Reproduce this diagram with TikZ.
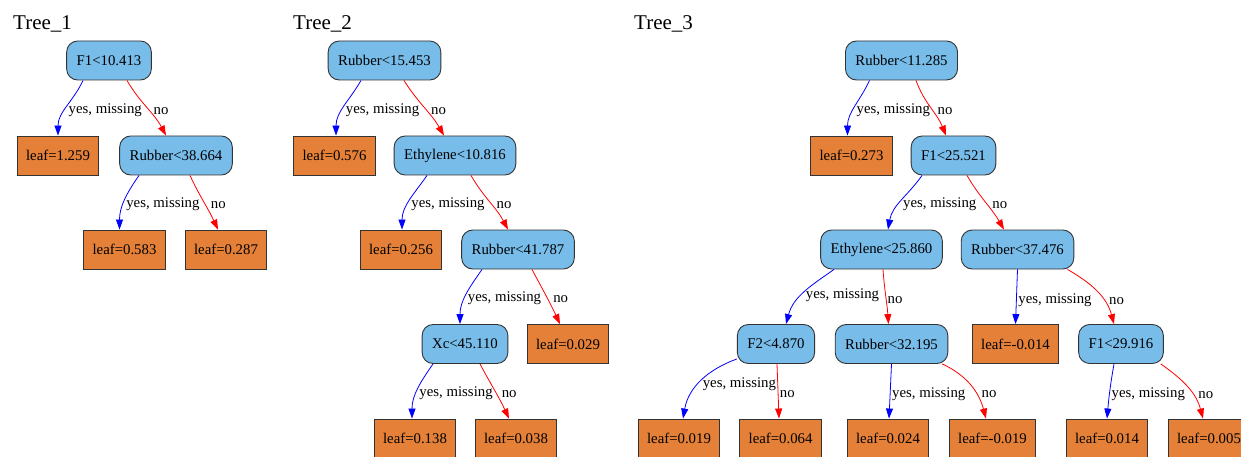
\documentclass[tikz,border=0pt]{standalone}
\usepackage{fontspec}
\setmainfont{Liberation Serif}
\usepackage{tikz}
\usetikzlibrary{arrows.meta,positioning}
\definecolor{condblue}{HTML}{78BCEA}
\definecolor{leaforange}{HTML}{E48038}

\begin{document}
\begin{tikzpicture}[
    x=1pt, y=1pt,
    font=\fontsize{14.8}{17}\selectfont,
    cond/.style={rectangle, draw=black!80, line width=0.9pt, rounded corners=11pt, fill=condblue, minimum height=39pt, inner xsep=10pt},
    leaf/.style={rectangle, draw=black!80, line width=0.9pt, fill=leaforange, minimum height=39pt, inner xsep=9pt},
    treetitle/.style={anchor=base west, inner sep=0pt, font=\fontsize{21}{24}\selectfont},
    yesedge/.style={-{Triangle[length=10pt, width=7pt]}, blue, line width=0.8pt},
    noedge/.style={-{Triangle[length=10pt, width=7pt]}, red, line width=0.8pt},
    lbl/.style={pos=0.5, anchor=west, inner sep=1.5pt, yshift=-3pt, text=black},
    nolbl/.style={lbl, xshift=5pt}
]
    \useasboundingbox (0,0) rectangle (1241,-457);

    % --- Tree 1 ---
    \node[treetitle] (ttl1) at (13,-30) {Tree\_1};

    \node[cond] (t1n0) at (109,-60.5) {F1<10.413};
    \node[leaf] (t1n1) at (58,-155.5) {leaf=1.259};
    \node[cond] (t1n2) at (176,-155.5) {Rubber<38.664};
    \node[leaf] (t1n3) at (124.5,-249.5) {leaf=0.583};
    \node[leaf] (t1n4) at (226,-249.5) {leaf=0.287};

    \draw[yesedge] ([xshift=-26pt]t1n0.south) to[out=-115, in=90] node[lbl] {yes, missing} (t1n1.north);
    \draw[noedge] ([xshift=18pt]t1n0.south) to[out=-60, in=118] node[nolbl] {no} ([xshift=-10pt]t1n2.north);
    \draw[yesedge] ([xshift=-37pt]t1n2.south) to[out=-125, in=90] node[lbl] {yes, missing} ([xshift=-5pt]t1n3.north);
    \draw[noedge] ([xshift=14pt]t1n2.south) to[out=-65, in=115] node[nolbl] {no} ([xshift=-8pt]t1n4.north);

    % --- Tree 2 ---
    \node[treetitle] (ttl2) at (293,-30) {Tree\_2};

    \node[cond] (t2n0) at (384.5,-60.5) {Rubber<15.453};
    \node[leaf] (t2n1) at (334.5,-155.5) {leaf=0.576};
    \node[cond] (t2n2) at (455,-155.5) {Ethylene<10.816};
    \node[leaf] (t2n3) at (401,-249.5) {leaf=0.256};
    \node[cond] (t2n4) at (518,-249.5) {Rubber<41.787};
    \node[cond] (t2n5) at (465,-344) {Xc<45.110};
    \node[leaf] (t2n6) at (568,-344) {leaf=0.029};
    \node[leaf] (t2n7) at (415,-438.5) {leaf=0.138};
    \node[leaf] (t2n8) at (516,-438.5) {leaf=0.038};

    \draw[yesedge] ([xshift=-23.5pt]t2n0.south) to[out=-120, in=90] node[lbl] {yes, missing} ([xshift=1.5pt]t2n1.north);
    \draw[noedge] ([xshift=19.5pt]t2n0.south) to[out=-58, in=120] node[nolbl] {no} ([xshift=-11pt]t2n2.north);
    \draw[yesedge] ([xshift=-28pt]t2n2.south) to[out=-125, in=90] node[lbl] {yes, missing} ([xshift=1pt]t2n3.north);
    \draw[noedge] ([xshift=16pt]t2n2.south) to[out=-60, in=118] node[nolbl] {no} ([xshift=-10pt]t2n4.north);
    \draw[yesedge] ([xshift=-36pt]t2n4.south) to[out=-125, in=90] node[lbl] {yes, missing} ([xshift=-5pt]t2n5.north);
    \draw[noedge] ([xshift=14pt]t2n4.south) to[out=-62, in=115] node[nolbl] {no} ([xshift=-8pt]t2n6.north);
    \draw[yesedge] ([xshift=-32pt]t2n5.south) to[out=-125, in=90] node[lbl] {yes, missing} ([xshift=-3pt]t2n7.north);
    \draw[noedge] ([xshift=15pt]t2n5.south) to[out=-62, in=115] node[nolbl] {no} ([xshift=-7pt]t2n8.north);

    % --- Tree 3 ---
    \node[treetitle] (ttl3) at (634,-30) {Tree\_3};

    \node[cond] (t3n0) at (901.5,-60.5) {Rubber<11.285};
    \node[leaf] (t3n1) at (851.5,-155.5) {leaf=0.273};
    \node[cond] (t3n2) at (953.5,-155.5) {F1<25.521};
    \node[cond] (t3n3) at (881.5,-249.5) {Ethylene<25.860};
    \node[cond] (t3n4) at (1017.5,-249.5) {Rubber<37.476};
    \node[cond] (t3n5) at (776,-344) {F2<4.870};
    \node[cond] (t3n6) at (891.5,-344) {Rubber<32.195};
    \node[leaf] (t3n7) at (1015.5,-344) {leaf=-0.014};
    \node[cond] (t3n8) at (1121,-344) {F1<29.916};
    \node[leaf] (t3n9) at (679,-438.5) {leaf=0.019};
    \node[leaf] (t3n10) at (780.6,-438.5) {leaf=0.064};
    \node[leaf] (t3n11) at (888,-438.5) {leaf=0.024};
    \node[leaf] (t3n12) at (992.5,-438.5) {leaf=-0.019};
    \node[leaf] (t3n13) at (1107,-438.5) {leaf=0.014};
    \node[leaf] (t3n14) at (1209,-438.5) {leaf=0.005};

    \draw[yesedge] ([xshift=-32pt]t3n0.south) to[out=-115, in=90] node[lbl] {yes, missing} ([xshift=-4pt]t3n1.north);
    \draw[noedge] ([xshift=14.5pt]t3n0.south) to[out=-70, in=112] node[nolbl] {no} ([xshift=-7.5pt]t3n2.north);
    \draw[yesedge] ([xshift=-31.5pt]t3n2.south) to[out=-125, in=80] node[lbl] {yes, missing} ([xshift=6.5pt]t3n3.north);
    \draw[noedge] ([xshift=13.5pt]t3n2.south) to[out=-60, in=120] node[nolbl] {no} ([xshift=-13.5pt]t3n4.north);
    \draw[yesedge] ([xshift=-47.5pt]t3n3.south) to[out=-145, in=75] node[lbl] {yes, missing} ([xshift=10pt]t3n5.north);
    \draw[noedge] ([xshift=1.5pt]t3n3.south) to[out=-86, in=94] node[lbl] {no} ([xshift=-3pt]t3n6.north);
    \draw[yesedge] (t3n4.south) -- node[lbl] {yes, missing} (t3n7.north);
    \draw[noedge] ([xshift=50pt]t3n4.south) to[out=-30, in=105] node[nolbl, pos=0.62] {no} ([xshift=-7pt]t3n8.north);
    \draw[yesedge] ([yshift=5pt]t3n5.south west) to[out=200, in=80] node[lbl] {yes, missing} ([xshift=4pt]t3n9.north);
    \draw[noedge] ([xshift=1pt]t3n5.south) -- node[lbl] {no} ([xshift=-1.6pt]t3n10.north);
    \draw[yesedge] (t3n6.south) -- node[lbl] {yes, missing} ([xshift=1pt]t3n11.north);
    \draw[noedge] ([xshift=-6pt]t3n6.south east) to[out=-25, in=105] node[nolbl, pos=0.6] {no} ([xshift=-6.5pt]t3n12.north);
    \draw[yesedge] ([xshift=-7pt]t3n8.south) to[out=-100, in=85] node[lbl] {yes, missing} (t3n13.north);
    \draw[noedge] ([xshift=-3pt]t3n8.south east) to[out=-35, in=105] node[nolbl, pos=0.6] {no} ([xshift=-6pt]t3n14.north);

\end{tikzpicture}
\end{document}
